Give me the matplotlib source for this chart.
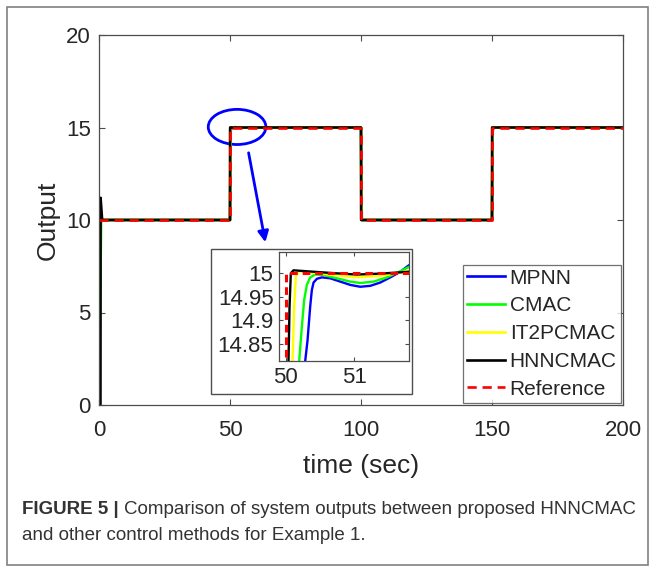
import matplotlib
matplotlib.use('Agg')
import matplotlib.pyplot as plt
from matplotlib.patches import Ellipse, Rectangle

plt.rcParams['font.family'] = ['Liberation Sans', 'DejaVu Sans']

# reference signal
ref_t = [0, 50, 50, 100, 100, 150, 150, 200]
ref_y = [10, 10, 15, 15, 10, 10, 15, 15]

# controller outputs (detail around the step at t=50)
mpnn_t = [0, 0.4, 50, 50.283, 50.317, 50.356, 50.380, 50.405, 50.454, 50.527, 50.649,
          50.795, 50.941, 51.088, 51.234, 51.380, 51.527, 51.673, 51.810, 53,
          100, 100.3, 150, 150.3, 200]
mpnn_y = [0, 10, 10, 14.813, 14.857, 14.929, 14.964, 14.980, 14.988, 14.991, 14.989,
          14.982, 14.975, 14.971, 14.973, 14.980, 14.991, 15.003, 15.018, 15.0,
          15, 10, 10, 15, 15]

cmac_t = [0, 0.8, 50, 50.195, 50.234, 50.268, 50.307, 50.356, 50.429, 50.551, 50.746,
          50.941, 51.088, 51.283, 51.478, 51.673, 51.810, 53,
          100, 100.2, 150, 150.2, 200]
cmac_y = [0, 10, 10, 14.813, 14.886, 14.943, 14.975, 14.991, 14.997, 14.996, 14.989,
          14.982, 14.979, 14.982, 14.991, 15.004, 15.014, 15.0,
          15, 10, 10, 15, 15]

it2_t = [0, 0.4, 50, 50.098, 50.122, 50.146, 50.185, 50.307, 50.698, 51.039, 51.380,
         51.673, 51.810, 53, 100, 100.1, 150, 150.1, 200]
it2_y = [0, 10, 10, 14.813, 14.929, 14.993, 15.004, 15.002, 14.996, 14.991, 14.994,
         15.001, 15.006, 15.0, 15, 10, 10, 15, 15]

hnn_t = [0, 0.55, 0.6, 1.2, 50, 50.039, 50.054, 50.073, 50.112, 50.307, 50.698, 51.039,
         51.380, 51.810, 53, 100, 100.05, 150, 150.05, 200]
hnn_y = [0, 0, 11.2, 10, 10, 14.813, 14.929, 15.0, 15.006, 15.004, 15.0, 14.997,
         14.999, 15.003, 15.0, 15, 10, 10, 15, 15]

labels = ['MPNN', 'CMAC', 'IT2PCMAC', 'HNNCMAC', 'Reference']
colors = ['#0000ff', '#00ff00', '#ffff00', '#000000', '#ff0000']

x_ticks = [0, 50, 100, 150, 200]
y_ticks = [0, 5, 10, 15, 20]
inset_xticks = [50, 51]
inset_yticks = [14.85, 14.9, 14.95, 15]
inset_yticklabels = ['14.85', '14.9', '14.95', '15']

gray = '#4d4d4d'
txt = '#262626'

fig = plt.figure(figsize=(6.55, 5.69), dpi=100)
ax = fig.add_axes([99/655, 1-405/569, 524/655, 370/569])

series = [(mpnn_t, mpnn_y), (cmac_t, cmac_y), (it2_t, it2_y), (hnn_t, hnn_y)]
for (t, y), c, lab in zip(series, colors[:4], labels[:4]):
    ax.plot(t, y, color=c, lw=1.9, label=lab)
ax.plot(ref_t, ref_y, color=colors[4], lw=1.9, dashes=(3.5, 2.2), label=labels[4])

ax.set_xlim(0, 200)
ax.set_ylim(0, 20)
ax.set_xticks(x_ticks)
ax.set_yticks(y_ticks)
ax.tick_params(direction='in', top=True, right=True, length=4, width=0.8,
               labelsize=16, colors=gray, labelcolor=txt)
ax.tick_params(axis='x', pad=11)
ax.tick_params(axis='y', pad=6)
for s in ax.spines.values():
    s.set_color(gray)
    s.set_linewidth(0.9)
ax.set_xlabel('time (sec)', fontsize=19, color=txt, labelpad=9)
ax.set_ylabel('Output', fontsize=19, color=txt, labelpad=4)

# zoom marker
ax.add_patch(Ellipse((52.7, 15.03), 22, 1.9, fill=False, color='#0000ff', lw=2))
ax.annotate('', xy=(63.7, 8.65), xytext=(56.9, 13.78),
            arrowprops=dict(arrowstyle='-|>', color='#0000ff', lw=2,
                            mutation_scale=16))

leg = ax.legend(loc='lower right', fontsize=15, frameon=True, fancybox=False,
                edgecolor=gray, borderpad=0.2, labelspacing=0.42,
                handlelength=1.8, handletextpad=0.25, borderaxespad=0.1)
leg.get_frame().set_linewidth(0.9)
for t in leg.get_texts():
    t.set_color(txt)

# inset background box
fig.add_artist(Rectangle((211/655, 1-394/569), 201/655, 145/569,
                         transform=fig.transFigure, facecolor='white',
                         edgecolor=gray, lw=1, zorder=2))

axin = fig.add_axes([279/655, 1-361/569, 130/655, 109/569])
axin.set_zorder(3)
for (t, y), c in zip(series, colors[:4]):
    axin.plot(t, y, color=c, lw=1.7)
axin.plot(ref_t, ref_y, color=colors[4], lw=2.2, dashes=(2.5, 1.6))
axin.set_xlim(49.9, 51.8)
axin.set_ylim(14.813, 15.045)
axin.set_xticks(inset_xticks)
axin.set_yticks(inset_yticks)
axin.set_yticklabels(inset_yticklabels)
axin.tick_params(direction='in', top=True, right=True, length=3, width=0.8,
                 labelsize=16, colors=gray, labelcolor=txt, pad=4)
for s in axin.spines.values():
    s.set_color(gray)
    s.set_linewidth(0.9)

# caption and outer frame
fig.add_artist(Rectangle((7/655, 1-565/569), 641/655, 558/569,
                         transform=fig.transFigure, fill=False,
                         edgecolor='#808080', lw=1.2))
cap = fig.text(22/655, 1-509/569, 'FIGURE 5 |', fontsize=13.5, fontweight='bold',
               color='#333333', va='center')
fig.canvas.draw()
bb = cap.get_window_extent().transformed(fig.transFigure.inverted())
fig.text(bb.x1 + 5/655, 1-509/569,
         'Comparison of system outputs between proposed HNNCMAC',
         fontsize=13.5, color='#333333', va='center')
fig.text(22/655, 1-536/569, 'and other control methods for Example 1.',
         fontsize=13.5, color='#333333', va='center')

plt.savefig('out.png', dpi=100)
